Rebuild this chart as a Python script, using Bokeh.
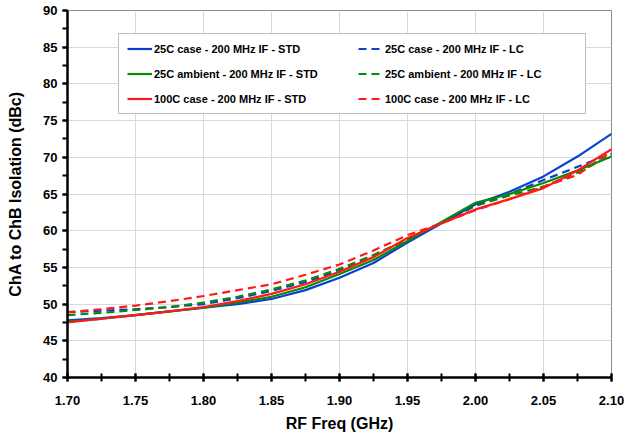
from bokeh.plotting import figure
from bokeh.models import Range1d, SingleIntervalTicker, Legend, LegendItem, NumeralTickFormatter
from bokeh.embed import file_html
from bokeh.resources import INLINE

freq = [1.700, 1.725, 1.750, 1.775, 1.800, 1.825, 1.850, 1.875, 1.900, 1.925,
        1.950, 1.975, 2.000, 2.025, 2.050, 2.075, 2.100]

blue_std = [47.8, 48.1, 48.5, 49.0, 49.5, 50.0, 50.7, 51.9, 53.6, 55.6, 58.4, 61.0, 63.6, 65.3, 67.4, 70.1, 73.2]
green_std = [47.6, 48.0, 48.5, 49.0, 49.5, 50.2, 51.0, 52.3, 54.1, 56.0, 58.6, 61.2, 63.8, 65.0, 66.5, 68.2, 70.1]
red_std = [47.5, 48.0, 48.5, 49.0, 49.6, 50.4, 51.4, 52.7, 54.4, 56.4, 59.0, 61.0, 62.9, 64.3, 65.8, 68.2, 71.1]
blue_lc = [48.9, 49.1, 49.3, 49.6, 50.0, 50.8, 51.8, 53.0, 54.6, 56.6, 58.8, 61.0, 63.4, 65.0, 66.9, 68.7, 70.5]
green_lc = [48.5, 48.8, 49.2, 49.6, 50.2, 51.0, 52.0, 53.2, 54.8, 56.7, 58.8, 61.0, 63.4, 64.8, 66.0, 67.9, 70.3]
red_lc = [48.9, 49.3, 49.8, 50.4, 51.1, 51.9, 52.7, 54.0, 55.4, 57.3, 59.4, 61.0, 62.8, 64.3, 66.0, 67.6, 70.8]

labels_std = ["25C case - 200 MHz IF - STD", "25C ambient - 200 MHz IF - STD", "100C case - 200 MHz IF - STD"]
labels_lc = ["25C case - 200 MHz IF - LC", "25C ambient - 200 MHz IF - LC", "100C case - 200 MHz IF - LC"]
colors = ["#0a3fd0", "#078a07", "#ff1a1a"]

FONT = "Liberation Sans"

p = figure(frame_width=544, frame_height=367, min_border_left=67, min_border_top=10,
           min_border_right=15, min_border_bottom=50,
           x_range=Range1d(1.70, 2.10), y_range=Range1d(40, 90),
           output_backend="svg", toolbar_location=None)

p.outline_line_color = "#8c8c8c"
p.outline_line_width = 1

p.xaxis.ticker = SingleIntervalTicker(interval=0.05, num_minor_ticks=2)
p.yaxis.ticker = SingleIntervalTicker(interval=5, num_minor_ticks=2)
p.xaxis.formatter = NumeralTickFormatter(format="0.00")
p.xgrid.grid_line_color = "#d9d9d9"
p.ygrid.grid_line_color = "#d9d9d9"

for ax in (p.xaxis[0], p.yaxis[0]):
    ax.axis_line_color = "black"
    ax.axis_line_width = 2.5
    ax.major_tick_line_color = "black"
    ax.major_tick_line_width = 2
    ax.minor_tick_line_color = "black"
    ax.minor_tick_line_width = 2
    ax.major_label_text_font = FONT
    ax.major_label_text_font_style = "bold"
    ax.major_label_text_font_size = "13px"
    ax.major_label_text_color = "black"
    ax.axis_label_text_font = FONT
    ax.axis_label_text_font_style = "bold"
    ax.axis_label_text_font_size = "16px"
    ax.axis_label_text_color = "black"

p.xaxis.major_tick_in = 4
p.xaxis.major_tick_out = 4
p.xaxis.minor_tick_in = 4
p.xaxis.minor_tick_out = 4
p.yaxis.major_tick_in = 0
p.yaxis.major_tick_out = 5
p.yaxis.minor_tick_in = 0
p.yaxis.minor_tick_out = 5
p.xaxis.major_label_standoff = 14
p.yaxis.major_label_standoff = 5
p.xaxis.axis_label = "RF Freq (GHz)"
p.yaxis.axis_label = "ChA to ChB Isolation (dBc)"
p.xaxis.axis_label_standoff = 7
p.yaxis.axis_label_standoff = 16

std_series = [blue_std, green_std, red_std]
lc_series = [blue_lc, green_lc, red_lc]

std_renderers = []
lc_renderers = []
for ys, c in zip(lc_series, colors):
    lc_renderers.append(p.line(freq, ys, line_color=c, line_width=2.2, line_dash="8 5"))
for ys, c in zip(std_series, colors):
    std_renderers.append(p.line(freq, ys, line_color=c, line_width=2.2))

items = []
for lab, r in zip(labels_std, std_renderers):
    items.append(LegendItem(label=lab, renderers=[r]))
for lab, r in zip(labels_lc, lc_renderers):
    items.append(LegendItem(label=lab, renderers=[r]))

legend = Legend(items=items, nrows=3, location=(51, 263))
legend.label_text_font = FONT
legend.label_text_font_style = "bold"
legend.label_text_font_size = "11px"
legend.label_text_color = "black"
legend.glyph_width = 25
legend.glyph_height = 13
legend.label_standoff = 2
legend.label_width = 192
legend.label_height = 13
legend.spacing = 12
legend.padding = 8
legend.border_line_color = "#808080"
legend.border_line_width = 1
legend.background_fill_color = "white"
legend.background_fill_alpha = 1
p.add_layout(legend, "center")

open("out.html", "w").write(file_html(p, INLINE))
